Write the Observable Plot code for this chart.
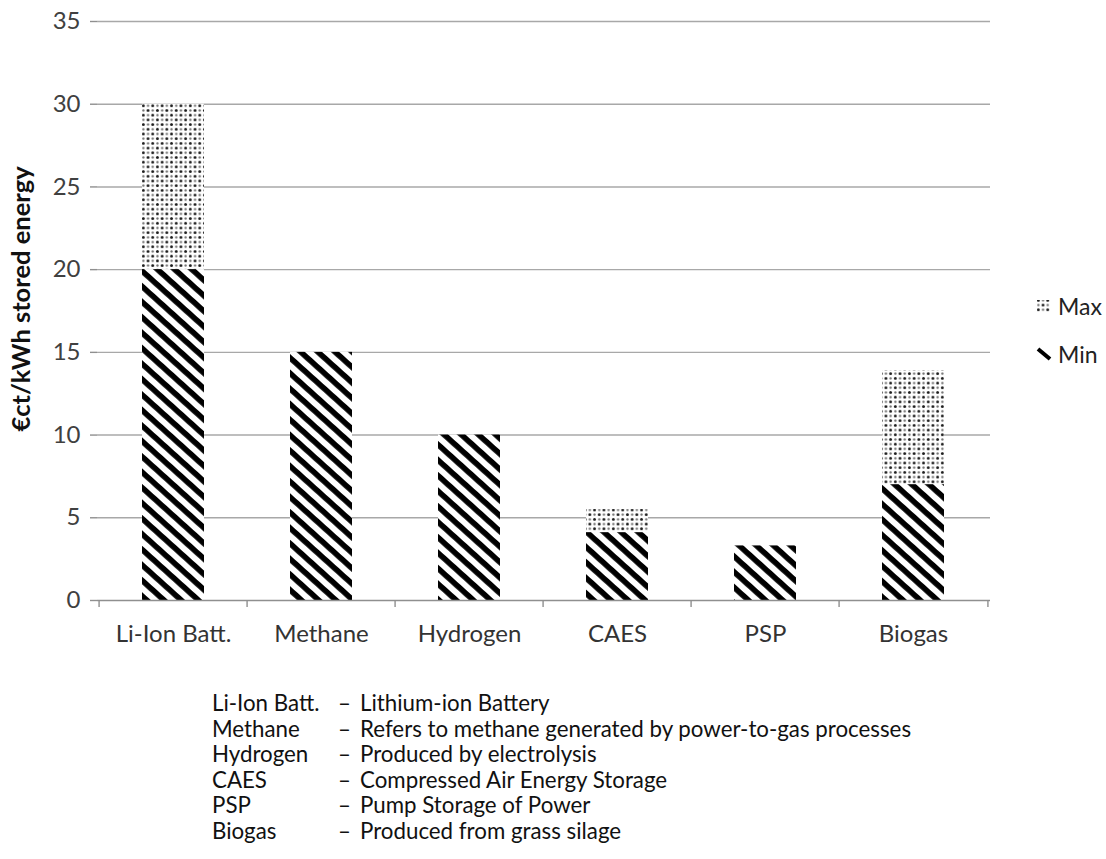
<!DOCTYPE html>
<html>
<head>
<meta charset="utf-8">
<script src="https://cdn.jsdelivr.net/npm/d3@7"></script>
<script src="https://cdn.jsdelivr.net/npm/@observablehq/plot@0.6"></script>
<style>
  body { margin: 0; background: #fff; font-family: Lato, "Open Sans", sans-serif; }
  #wrap { position: relative; width: 1106px; height: 859px; overflow: hidden; }
  #legend { position: absolute; left: 1036px; top: 291px; font-size: 23px; color: #222; }
  #legend div { display: flex; align-items: center; height: 30px; margin-bottom: 18px; white-space: nowrap; }
  #legend svg { margin-right: 6px; }
  #notes { position: absolute; left: 212px; top: 690px; font-size: 22.3px; color: #111; line-height: 25.6px; }
  #notes .row { display: flex; white-space: nowrap; }
  #notes .a { width: 126px; flex: none; }
  #notes .d { width: 22px; flex: none; }
</style>
</head>
<body>
<div id="wrap">
  <div id="chart"></div>
  <div id="legend"></div>
  <div id="notes"></div>
</div>
<script>
const categories = ["Li-Ion Batt.", "Methane", "Hydrogen", "CAES", "PSP", "Biogas"];
const minValues = [20, 15, 10, 4.1, 3.3, 7];
const maxValues = [30, 15, 10, 5.5, 3.3, 13.9];
const yTicks = [0, 5, 10, 15, 20, 25, 30, 35];
const noteNames = ["Li-Ion Batt.", "Methane", "Hydrogen", "CAES", "PSP", "Biogas"];
const noteTexts = ["Lithium-ion Battery", "Refers to methane generated by power-to-gas processes", "Produced by electrolysis", "Compressed Air Energy Storage", "Pump Storage of Power", "Produced from grass silage"];

const data = categories.map((c, i) => ({category: c, min: minValues[i], max: maxValues[i]}));

const W = 1106, H = 660, ML = 97, MR = 116, MT = 21, MB = 60;
const step = (W - ML - MR) / categories.length;

function defs() {
  const g = d3.create("svg:defs");
  const s = g.append("pattern").attr("id", "stripes").attr("patternUnits", "userSpaceOnUse")
    .attr("width", 11.5).attr("height", 11.5).attr("patternTransform", "rotate(42)");
  s.append("rect").attr("width", 11.5).attr("height", 11.5).attr("fill", "#fff");
  s.append("rect").attr("x", 0).attr("y", 0).attr("width", 11.5).attr("height", 5.6).attr("fill", "#000");
  const p = g.append("pattern").attr("id", "dots").attr("patternUnits", "userSpaceOnUse")
    .attr("width", 9.4).attr("height", 9.4);
  p.append("rect").attr("width", 9.4).attr("height", 9.4).attr("fill", "#fff");
  p.append("circle").attr("cx", 2.35).attr("cy", 2.35).attr("r", 1.45).attr("fill", "#1a1a1a");
  p.append("circle").attr("cx", 7.05).attr("cy", 7.05).attr("r", 1.45).attr("fill", "#1a1a1a");
  p.append("circle").attr("cx", 7.05).attr("cy", 2.35).attr("r", 1.15).attr("fill", "#6e6e6e");
  p.append("circle").attr("cx", 2.35).attr("cy", 7.05).attr("r", 1.15).attr("fill", "#6e6e6e");
  return g.node();
}

const chart = Plot.plot({
  width: W, height: H,
  marginLeft: ML, marginRight: MR, marginTop: MT, marginBottom: MB,
  style: {fontFamily: "Lato, 'Open Sans', sans-serif", background: "#fff", overflow: "visible"},
  x: {domain: categories, paddingInner: 0.58, paddingOuter: 0.29, label: null},
  y: {domain: [0, 35], label: null},
  marks: [
    defs,
    Plot.gridY(yTicks.filter(d => d > 0), {stroke: "#a8a8a8", strokeOpacity: 1, strokeWidth: 1.4}),
    Plot.barY(data, {x: "category", y1: "min", y2: "max", fill: "url(#dots)"}),
    Plot.barY(data, {x: "category", y1: 0, y2: "min", fill: "url(#stripes)"}),
    Plot.ruleY([0], {stroke: "#8f8f8f", strokeWidth: 1.4}),
    Plot.ruleX([0], {x: () => null, frameAnchor: "left", stroke: "#8f8f8f", strokeWidth: 1.4}),
    Plot.axisY(yTicks, {tickSize: 7, tickPadding: 10, fontSize: 24, fill: "#404040", stroke: "#8f8f8f", strokeWidth: 1.4, label: null}),
    Plot.axisX({tickSize: 0, tickPadding: 24, fontSize: 24, fill: "#333", label: null}),
    Plot.axisX(categories, {tickSize: 7, text: null, dx: -step / 2, stroke: "#8f8f8f", strokeWidth: 1.4, label: null}),
    Plot.axisX(categories.slice(-1), {tickSize: 7, text: null, dx: step / 2, stroke: "#8f8f8f", strokeWidth: 1.4, label: null}),
    Plot.text(["€ct/kWh stored energy"], {frameAnchor: "left", textAnchor: "middle", dx: -76, dy: -12, rotate: -90, fontSize: 25.5, fontWeight: "bold", fill: "#111"})
  ]
});
document.getElementById("chart").appendChild(chart);

// legend
const legend = document.getElementById("legend");
const legendItems = [
  {label: "Max", sw: `<svg width="16" height="16"><rect x="1" y="2" width="13" height="12" fill="url(#dots)"/></svg>`},
  {label: "Min", sw: `<svg width="16" height="16"><line x1="2" y1="3" x2="14" y2="13" stroke="#000" stroke-width="4"/></svg>`}
];
for (const it of legendItems) {
  const d = document.createElement("div");
  d.innerHTML = it.sw + `<span>${it.label}</span>`;
  legend.appendChild(d);
}

// notes
const notes = document.getElementById("notes");
noteNames.forEach((n, i) => {
  const r = document.createElement("div");
  r.className = "row";
  r.innerHTML = `<span class="a">${n}</span><span class="d">–</span><span>${noteTexts[i]}</span>`;
  notes.appendChild(r);
});
</script>
</body>
</html>
